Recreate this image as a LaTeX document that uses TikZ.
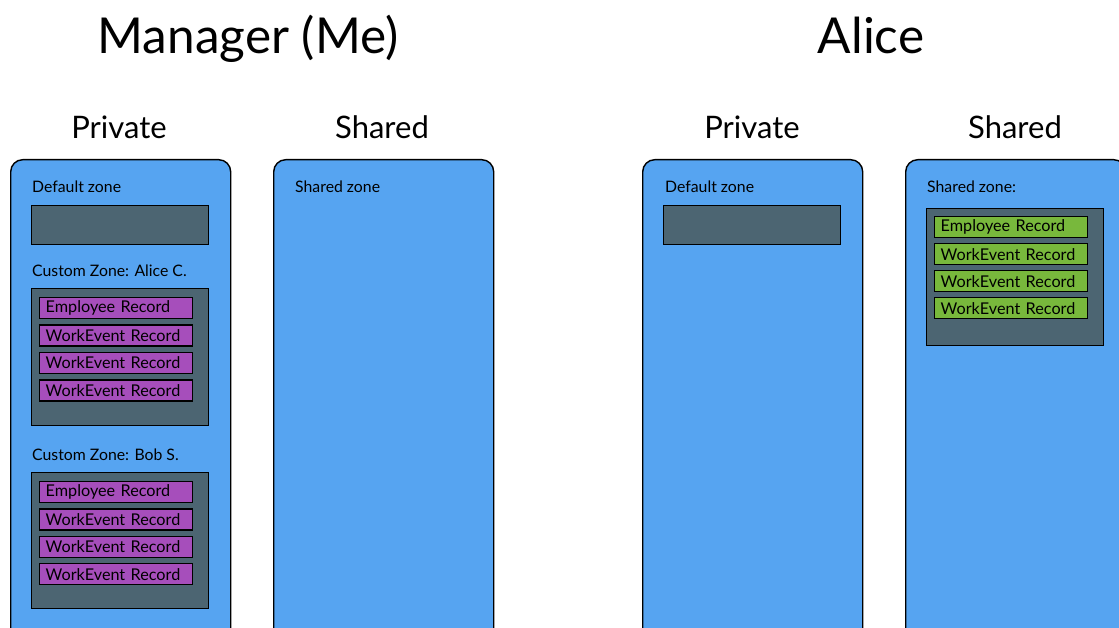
\documentclass[tikz,border=0pt]{standalone}
\usepackage{fontspec}
\setmainfont{Lato}
\usetikzlibrary{positioning}
\definecolor{zoneblue}{HTML}{56A4F1}
\definecolor{slate}{HTML}{4C6572}
\definecolor{recpurple}{HTML}{A64EBB}
\definecolor{recgreen}{HTML}{78B83C}
\begin{document}
\begin{tikzpicture}
            [
            x = 1pt, y = -1pt,
            title/.style = {anchor = base, font = \fontsize{49.5}{50}\selectfont},
            column/.style = {anchor = base, font = \fontsize{31}{31}\selectfont},
            label/.style = {anchor = base west, inner sep = 0, font = \fontsize{15.8}{16}\selectfont},
            ]
            \tikzstyle{panel}=[draw, line width=1.4pt, fill=zoneblue, rounded corners=12pt, anchor=north west, minimum width=220pt, minimum height=500pt]
            \tikzstyle{zone box}=[draw, line width=1.4pt, fill=slate, anchor=north west, minimum width=177pt]
            \tikzstyle{record}=[draw, line width=1.4pt, anchor=north west, text width=141pt, inner xsep=6pt, inner ysep=0pt, minimum height=21pt, align=left, font=\fontsize{16.2}{16}\selectfont]

            \useasboundingbox (0,0) rectangle (1119,628);
            \clip (0,0) rectangle (1119,628);

            % headings
            \node[title] (mgr) at (248,54) {Manager (Me)};
            \node[title] (alice) at (871,54) {Alice};
            \node[column] (mgrpriv) at (119,139) {Private};
            \node[column] (mgrshared) at (382,139) {Shared};
            \node[column] (alicepriv) at (752,139) {Private};
            \node[column] (aliceshared) at (1015,139) {Shared};

            % manager, private
            \node[panel] (p1) at (10,159) {};
            \node[label] (p1def) at (32,193) {Default zone};
            \node[zone box, minimum height=39pt] (p1defbox) at (31,205) {};
            \node[label] (p1alice) at (32,277) {Custom Zone: Alice C.};
            \node[zone box, minimum height=137pt] (p1alicebox) at (31,288) {};
            \foreach \i/\t in {0/Employee,1/WorkEvent,2/WorkEvent,3/WorkEvent}
                \node[record, fill=recpurple] (ra\i) at (39,297+27.4*\i) {\t{} Record};
            \node[label] (p1bob) at (32,460) {Custom Zone: Bob S.};
            \node[zone box, minimum height=136pt] (p1bobbox) at (31,472) {};
            \foreach \i/\t in {0/Employee,1/WorkEvent,2/WorkEvent,3/WorkEvent}
                \node[record, fill=recpurple] (rb\i) at (39,481+27.3*\i) {\t{} Record};

            % manager, shared
            \node[panel] (p2) at (273,159) {};
            \node[label] (p2shared) at (295,193) {Shared zone};

            % alice, private
            \node[panel] (p3) at (642,159) {};
            \node[label] (p3def) at (665,193) {Default zone};
            \node[zone box, minimum height=39pt] (p3defbox) at (663,205) {};

            % alice, shared
            \node[panel] (p4) at (905,159) {};
            \node[label] (p4shared) at (927,193) {Shared zone:};
            \node[zone box, minimum height=137pt] (p4box) at (926,208) {};
            \foreach \i/\t in {0/Employee,1/WorkEvent,2/WorkEvent,3/WorkEvent}
                \node[record, fill=recgreen] (rc\i) at (934,216+27*\i) {\t{} Record};
        \end{tikzpicture}
\end{document}
